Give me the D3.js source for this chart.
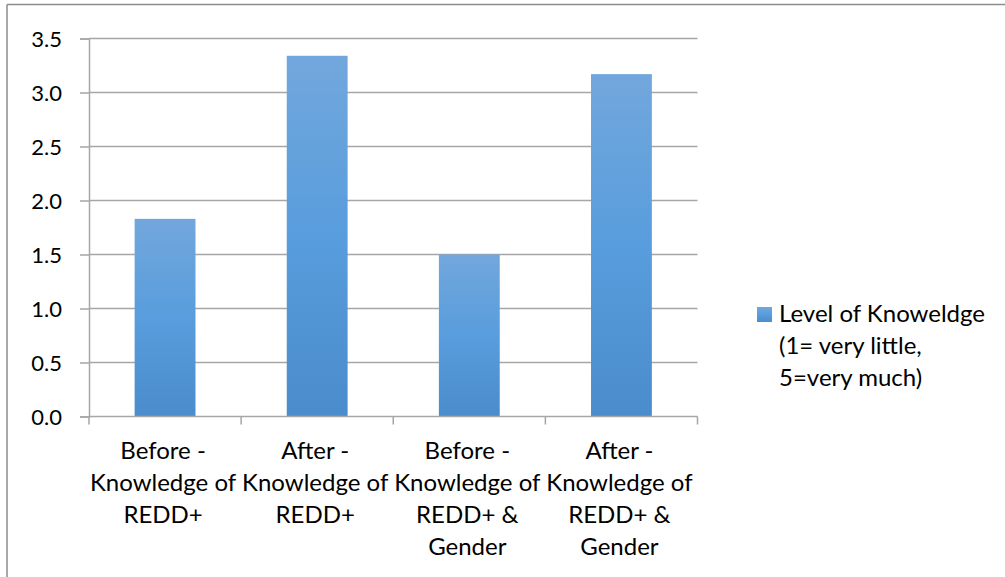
<!DOCTYPE html>
<html>
<head>
<meta charset="utf-8">
<script src="https://cdn.jsdelivr.net/npm/d3@7"></script>
<style>
  html, body { margin: 0; padding: 0; background: #fff; }
  svg { display: block; font-family: Lato, "Open Sans", sans-serif; }
</style>
</head>
<body>
<svg id="chart" width="1005" height="577"></svg>
<script>
// Category labels, already split into the lines they wrap onto
const categories = [
  ["Before -", "Knowledge of", "REDD+"],
  ["After -", "Knowledge of", "REDD+"],
  ["Before -", "Knowledge of", "REDD+ &", "Gender"],
  ["After -", "Knowledge of", "REDD+ &", "Gender"]
];
const values = [1.83, 3.34, 1.50, 3.17];
const yTicks = [0, 0.5, 1.0, 1.5, 2.0, 2.5, 3.0, 3.5];
const seriesName = ["Level of Knoweldge", "(1= very little,", "5=very much)"];

const svg = d3.select("#chart");
const W = 1005, H = 577;
const plot = { left: 89, right: 697.5, top: 38.5, bottom: 416.5 };
const tickFont = 22;
const labelFont = 24;
const lineGap = 32;

// chart frame (top and left edges visible)
svg.append("line").attr("x1", 7).attr("x2", W).attr("y1", 4.5).attr("y2", 4.5)
  .attr("stroke", "#8c8c8c").attr("stroke-width", 1.5);
svg.append("line").attr("x1", 7).attr("x2", 7).attr("y1", 4.5).attr("y2", H)
  .attr("stroke", "#8c8c8c").attr("stroke-width", 1.5);

// bar fill gradient
const defs = svg.append("defs");
const grad = defs.append("linearGradient").attr("id", "barFill")
  .attr("x1", 0).attr("y1", 0).attr("x2", 0).attr("y2", 1);
grad.append("stop").attr("offset", "0%").attr("stop-color", "#72a7dc");
grad.append("stop").attr("offset", "50%").attr("stop-color", "#589ddd");
grad.append("stop").attr("offset", "100%").attr("stop-color", "#4a8ccc");

const x = d3.scaleBand()
  .domain(d3.range(categories.length))
  .range([plot.left, plot.right])
  .paddingInner(0.6)
  .paddingOuter(0.3);

const y = d3.scaleLinear().domain([0, 3.5]).range([plot.bottom, plot.top]);

// horizontal gridlines
svg.append("g").selectAll("line").data(yTicks.filter(d => d > 0)).join("line")
  .attr("x1", plot.left).attr("x2", plot.right)
  .attr("y1", d => y(d)).attr("y2", d => y(d))
  .attr("stroke", "#a6a6a6").attr("stroke-width", 1.5);

// y axis
const yAxis = d3.axisLeft(y).tickValues(yTicks).tickFormat(d3.format(".1f"))
  .tickSize(9).tickPadding(18);
const gy = svg.append("g").attr("transform", `translate(${plot.left},0)`).call(yAxis);
gy.select(".domain").attr("stroke", "#a6a6a6").attr("stroke-width", 1.5);
gy.selectAll(".tick line").attr("stroke", "#a6a6a6").attr("stroke-width", 1.5);
gy.selectAll(".tick text")
  .attr("font-size", tickFont).attr("font-family", "Lato, 'Open Sans', sans-serif")
  .attr("fill", "#000").attr("dy", "0.36em");

// bars
svg.append("g").selectAll("rect").data(values).join("rect")
  .attr("x", (d, i) => x(i))
  .attr("width", x.bandwidth())
  .attr("y", d => y(d))
  .attr("height", d => y(0) - y(d))
  .attr("fill", "url(#barFill)");

// x axis line and boundary ticks
const step = x.step();
const bounds = d3.range(categories.length + 1).map(i => plot.left + i * step);
svg.append("line").attr("x1", plot.left).attr("x2", plot.right)
  .attr("y1", y(0)).attr("y2", y(0))
  .attr("stroke", "#a6a6a6").attr("stroke-width", 1.5);
svg.append("g").selectAll("line").data(bounds).join("line")
  .attr("x1", d => d).attr("x2", d => d)
  .attr("y1", y(0)).attr("y2", y(0) + 8)
  .attr("stroke", "#a6a6a6").attr("stroke-width", 1.5);

// category labels
const labels = svg.append("g").attr("font-size", labelFont).attr("fill", "#000")
  .attr("text-anchor", "middle");
categories.forEach((lines, i) => {
  const cx = x(i) + x.bandwidth() / 2 - 2;
  const t = labels.append("text").attr("x", cx).attr("y", 459);
  lines.forEach((ln, k) => {
    t.append("tspan").attr("x", cx).attr("y", 459 + k * lineGap).text(ln);
  });
});

// legend
const lg = svg.append("g");
lg.append("rect").attr("x", 757).attr("y", 307).attr("width", 15).attr("height", 15)
  .attr("fill", "url(#barFill)");
const lt = lg.append("text").attr("font-size", labelFont).attr("fill", "#000");
seriesName.forEach((ln, k) => {
  lt.append("tspan").attr("x", 779).attr("y", 322 + k * lineGap).text(ln);
});
</script>
</body>
</html>
